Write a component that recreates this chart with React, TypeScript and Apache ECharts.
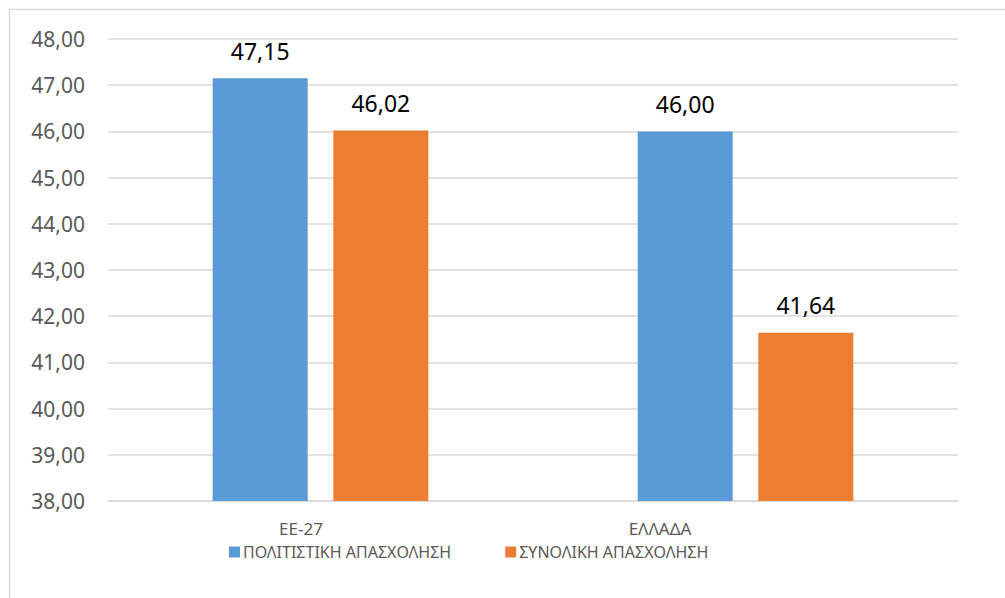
import React, { useEffect, useRef } from "react";
import * as echarts from "echarts";

const categories = ["ΕΕ-27", "ΕΛΛΑΔΑ"];
const seriesNames = ["ΠΟΛΙΤΙΣΤΙΚΗ ΑΠΑΣΧΟΛΗΣΗ", "ΣΥΝΟΛΙΚΗ ΑΠΑΣΧΟΛΗΣΗ"];
const culturalValues = [47.15, 46.0];
const totalValues = [46.02, 41.64];
const colors = ["#5B9BD5", "#ED7D31"];
const labelShift: Record<string, number> = { "ΕΕ-27": 39, "ΕΛΛΑΔΑ": 171 };

const fmt = (v: number) => v.toFixed(2).replace(".", ",");
const FONT = "'Noto Sans', 'Liberation Sans', sans-serif";

export default function App() {
  const ref = useRef<HTMLDivElement>(null);
  useEffect(() => {
    if (!ref.current) return;
    const chart = echarts.init(ref.current, null, { renderer: "svg" });
    const rich: Record<string, any> = {};
    categories.forEach((c, i) => {
      rich["c" + i] = {
        fontSize: 17,
        fontFamily: FONT,
        color: "#595959",
        padding: [0, labelShift[c], 0, 0],
      };
    });
    chart.setOption({
      animation: false,
      backgroundColor: "#ffffff",
      textStyle: { fontFamily: FONT },
      graphic: [
        {
          type: "rect",
          shape: { x: 9.5, y: 9.5, width: 1010, height: 610 },
          style: { fill: "none", stroke: "#d9d9d9", lineWidth: 1.5 },
          silent: true,
        },
      ],
      grid: { left: 108, right: 47, top: 39, bottom: 97, containLabel: false },
      legend: {
        left: 224,
        top: 539,
        itemWidth: 11,
        itemHeight: 11,
        itemGap: 54,
        icon: "rect",
        textStyle: { fontSize: 16, color: "#595959", fontFamily: FONT, padding: [0, 0, 0, -2] },
        data: seriesNames,
      },
      xAxis: {
        type: "category",
        data: categories,
        axisLine: { show: true, lineStyle: { color: "#d9d9d9", width: 1.5 } },
        axisTick: { show: false },
        axisLabel: {
          margin: 19,
          formatter: (v: string) => {
            const i = categories.indexOf(v);
            return "{c" + i + "|" + v + "}";
          },
          rich,
        },
      },
      yAxis: {
        type: "value",
        min: 38,
        max: 48,
        interval: 1,
        axisLine: { show: false },
        axisTick: { show: false },
        splitLine: { lineStyle: { color: "#d9d9d9", width: 1.5 } },
        axisLabel: {
          margin: 23,
          fontSize: 21,
          color: "#595959",
          fontFamily: FONT,
          formatter: (v: number) => fmt(v),
        },
      },
      series: [
        {
          name: seriesNames[0],
          type: "bar",
          data: culturalValues,
          barWidth: 95,
          barGap: "27%",
          itemStyle: { color: colors[0] },
          label: {
            show: true,
            position: "top",
            distance: 16,
            fontSize: 23,
            color: "#000000",
            fontFamily: FONT,
            formatter: (p: any) => fmt(p.value),
          },
        },
        {
          name: seriesNames[1],
          type: "bar",
          data: totalValues,
          barWidth: 95,
          barGap: "27%",
          itemStyle: { color: colors[1] },
          label: {
            show: true,
            position: "top",
            distance: 16,
            fontSize: 23,
            color: "#000000",
            fontFamily: FONT,
            formatter: (p: any) => fmt(p.value),
          },
        },
      ],
    });
    return () => chart.dispose();
  }, []);
  return (
    <div
      ref={ref}
      style={{ position: "fixed", left: 0, top: 0, width: 1005, height: 598 }}
    />
  );
}
